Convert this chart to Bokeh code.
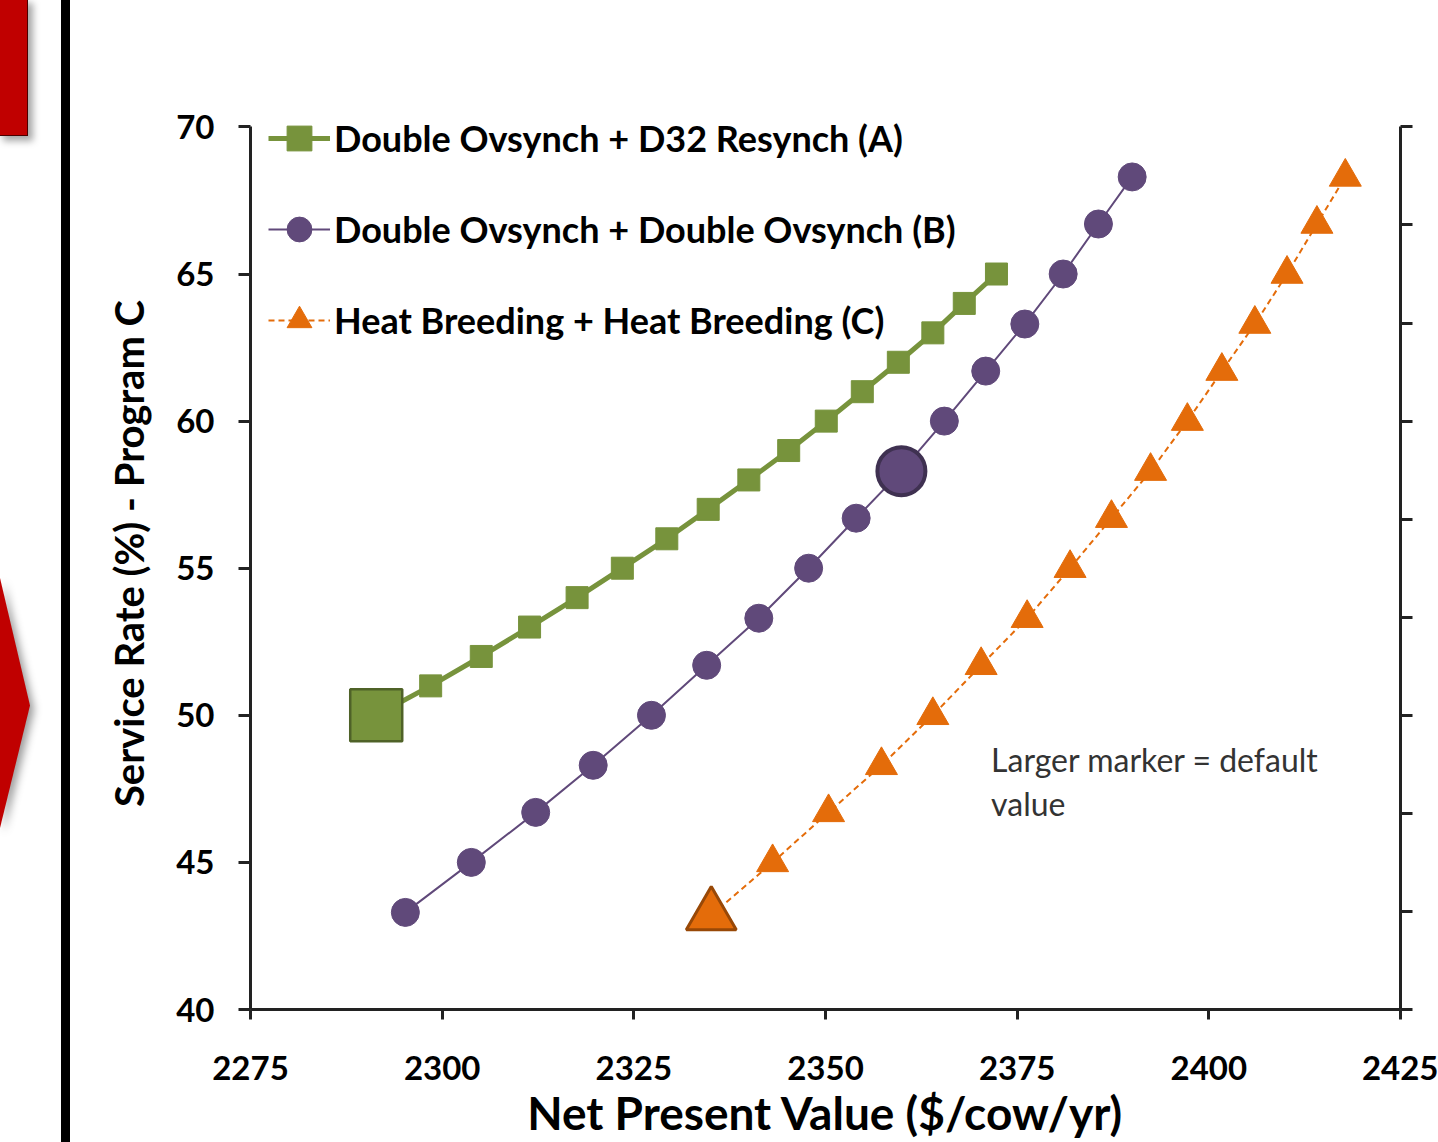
from bokeh.plotting import figure
from bokeh.models import Range1d, LinearAxis, FixedTicker, Legend, LegendItem, Label, Div
from bokeh.layouts import row
from bokeh.embed import file_html
from bokeh.resources import INLINE

# ---------------- data ----------------
x_ticks = [2275, 2300, 2325, 2350, 2375, 2400, 2425]
y_ticks = [40, 45, 50, 55, 60, 65, 70]

name_a = "Double Ovsynch + D32 Resynch (A)"
name_b = "Double Ovsynch + Double Ovsynch (B)"
name_c = "Heat Breeding + Heat Breeding (C)"

npv_a = [2291.4, 2298.5, 2305.1, 2311.4, 2317.6, 2323.5, 2329.3, 2334.7,
         2340.0, 2345.2, 2350.1, 2354.8, 2359.5, 2364.0, 2368.1, 2372.3]
sr_a = [50, 51, 52, 53, 54, 55, 56, 57, 58, 59, 60, 61, 62, 63, 64, 65]

npv_b = [2295.2, 2303.8, 2312.2, 2319.7, 2327.3, 2334.5, 2341.3, 2347.8,
         2354.0, 2359.9, 2365.5, 2370.9, 2376.0, 2381.0, 2385.6, 2390.0]
sr_b = [43.3, 45.0, 46.7, 48.3, 50.0, 51.7, 53.3, 55.0,
        56.7, 58.3, 60.0, 61.7, 63.3, 65.0, 66.7, 68.3]

npv_c = [2335.1, 2343.1, 2350.4, 2357.3, 2364.0, 2370.3, 2376.3, 2381.9,
         2387.3, 2392.4, 2397.2, 2401.7, 2406.0, 2410.2, 2414.1, 2417.8]
sr_c = [43.2, 45.0, 46.7, 48.3, 50.0, 51.7, 53.3, 55.0,
        56.7, 58.3, 60.0, 61.7, 63.3, 65.0, 66.7, 68.3]

default_a = 0
default_b = 9
default_c = 0

right_ticks = [0, 1, 2, 3, 4, 5, 6, 7, 8, 9]

GREEN = "#77933C"
GREEN_D = "#4F6228"
PURPLE = "#60497A"
PURPLE_D = "#3F3151"
ORANGE = "#E46C0A"
ORANGE_D = "#984807"
AXIS = "#222222"
FONT = "Lato"

# ---------------- slide decoration strip (HTML) ----------------
deco_html = """
<div style="position:relative;width:70px;height:1142px;overflow:hidden;background:white;">
  <div style="position:absolute;left:-2px;top:-2px;width:30px;height:138px;background:#C00000;
              border:1px solid #4a0000;box-shadow:5px 5px 7px rgba(0,0,0,0.35);"></div>
  <div style="position:absolute;left:0;top:578px;width:34px;height:256px;
              filter:drop-shadow(4px 4px 4px rgba(0,0,0,0.4));">
    <div style="width:30px;height:250px;background:#C00000;
                clip-path:polygon(0 0,100% 51%,0 100%);"></div>
  </div>
  <div style="position:absolute;left:61px;top:0;width:9px;height:1142px;background:#000;"></div>
</div>
"""
d = Div(text=deco_html, width=70, height=1142, margin=0)

# ---------------- main chart ----------------
p = figure(width=1368, height=1142, x_range=Range1d(2275, 2425), y_range=Range1d(40, 71),
           output_backend="svg", toolbar_location=None, margin=0,
           min_border_left=180, min_border_right=38, min_border_top=97, min_border_bottom=130)
p.outline_line_color = None
p.grid.visible = False
p.background_fill_color = "white"
p.border_fill_color = "white"

for ax in (p.xaxis[0], p.yaxis[0]):
    ax.axis_line_color = AXIS
    ax.axis_line_width = 3
    ax.major_tick_line_color = AXIS
    ax.major_tick_line_width = 3
    ax.minor_tick_line_color = None
    ax.major_tick_in = 0
    ax.major_label_text_font = FONT
    ax.major_label_text_font_style = "bold"
    ax.major_label_text_font_size = "33px"
    ax.major_label_text_color = "black"
    ax.axis_label_text_font = FONT
    ax.axis_label_text_font_style = "bold"
    ax.axis_label_text_color = "black"

p.xaxis[0].ticker = FixedTicker(ticks=x_ticks)
p.xaxis[0].major_tick_out = 10
p.xaxis[0].major_label_standoff = 36
p.xaxis[0].axis_label = "Net Present Value ($/cow/yr)"
p.xaxis[0].axis_label_text_font_size = "46px"
p.xaxis[0].axis_label_standoff = 2

p.yaxis[0].ticker = FixedTicker(ticks=y_ticks)
p.yaxis[0].bounds = (40, 70)
p.yaxis[0].major_tick_out = 12
p.yaxis[0].major_label_standoff = 24
p.yaxis[0].axis_label = "Service Rate (%) - Program C"
p.yaxis[0].axis_label_text_font_size = "40px"
p.yaxis[0].axis_label_standoff = 20

p.extra_y_ranges = {"right": Range1d(0, 9.3)}
ra = LinearAxis(y_range_name="right", ticker=FixedTicker(ticks=right_ticks), bounds=(0, 9))
ra.axis_line_color = AXIS
ra.axis_line_width = 3
ra.major_tick_line_color = AXIS
ra.major_tick_line_width = 3
ra.major_tick_in = 0
ra.major_tick_out = 12
ra.minor_tick_line_color = None
ra.major_label_text_font_size = "1px"
ra.major_label_text_color = None
p.add_layout(ra, "right")

# series A
la = p.line(npv_a, sr_a, line_color=GREEN, line_width=5)
ma = p.scatter(npv_a, sr_a, marker="square", size=22, fill_color=GREEN, line_color=GREEN)
p.scatter([npv_a[default_a]], [sr_a[default_a]], marker="square", size=52,
          fill_color=GREEN, line_color=GREEN_D, line_width=2.5)

# series B
lb = p.line(npv_b, sr_b, line_color=PURPLE, line_width=2)
mb = p.scatter(npv_b, sr_b, marker="circle", size=28, fill_color=PURPLE, line_color=PURPLE)
p.scatter([npv_b[default_b]], [sr_b[default_b]], marker="circle", size=48,
          fill_color=PURPLE, line_color=PURPLE_D, line_width=4)

# series C
lc = p.line(npv_c, sr_c, line_color=ORANGE, line_width=2, line_dash="6 4")
mc = p.scatter(npv_c, sr_c, marker="triangle", size=32, fill_color=ORANGE, line_color=ORANGE)
p.scatter([npv_c[default_c]], [sr_c[default_c]], marker="triangle", size=50,
          fill_color=ORANGE, line_color=ORANGE_D, line_width=3)

legend = Legend(items=[LegendItem(label=name_a, renderers=[la, ma]),
                       LegendItem(label=name_b, renderers=[lb, mb]),
                       LegendItem(label=name_c, renderers=[lc, mc])],
                location=(18, 657), orientation="vertical",
                border_line_color=None, background_fill_alpha=0,
                padding=0, margin=0, spacing=27,
                label_height=64, glyph_height=64, glyph_width=62, label_standoff=4,
                label_text_font=FONT, label_text_font_style="bold",
                label_text_font_size="36px", label_text_color="black")
p.add_layout(legend)

p.add_layout(Label(x=2371.6, y=48.5, text="Larger marker = default", text_font=FONT,
                   text_font_size="32px", text_color="#333333", text_baseline="middle"))
p.add_layout(Label(x=2371.6, y=47.0, text="value", text_font=FONT,
                   text_font_size="32px", text_color="#333333", text_baseline="middle"))

layout = row(d, p, spacing=0)
open("out.html", "w").write(file_html(layout, INLINE))
